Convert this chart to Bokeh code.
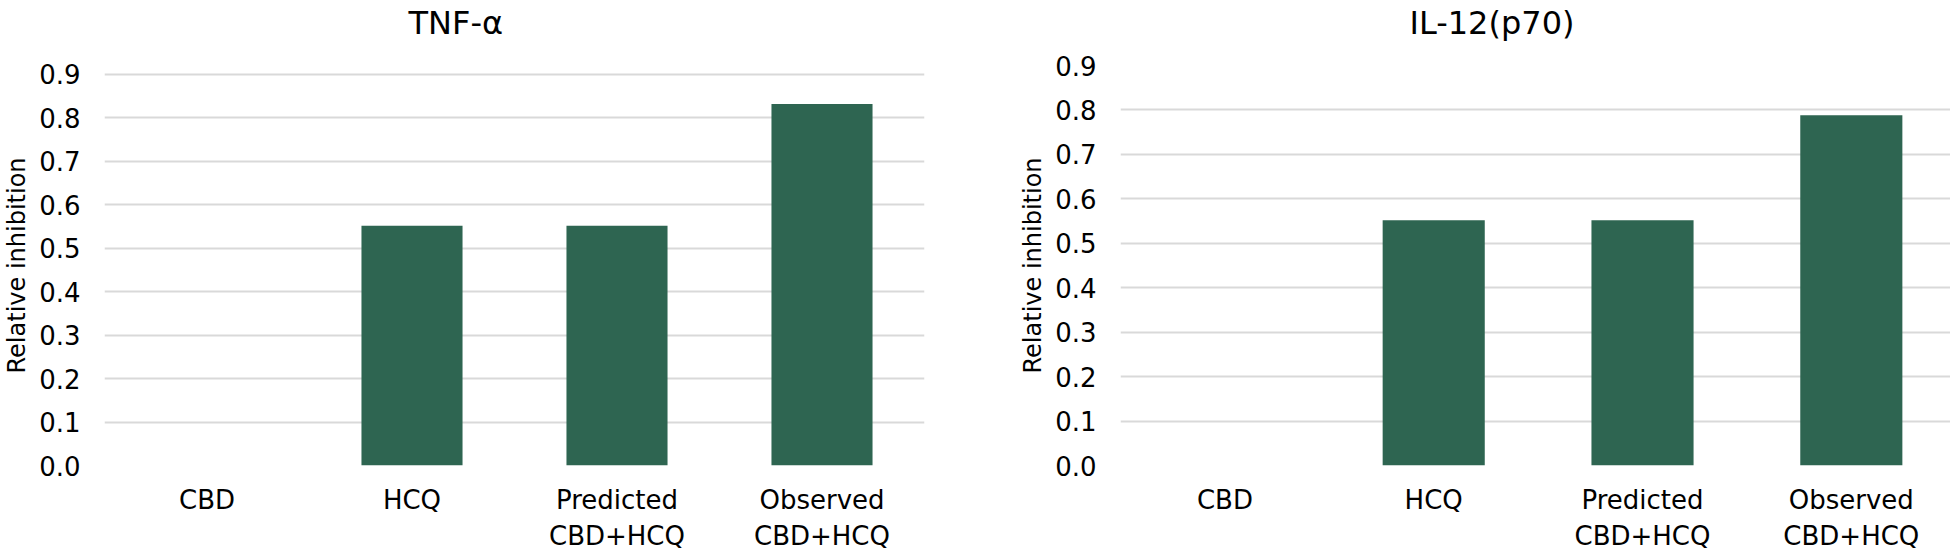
from bokeh.plotting import figure
from bokeh.layouts import row
from bokeh.models import Range1d, FixedTicker, NumeralTickFormatter, ColumnDataSource, Title
from bokeh.embed import file_html
from bokeh.resources import INLINE

categories = ["CBD", "HCQ", "Predicted\nCBD+HCQ", "Observed\nCBD+HCQ"]
tnf_values = [0.0, 0.552, 0.552, 0.832]
il12_values = [0.0, 0.552, 0.552, 0.788]
y_ticks = [0.0, 0.1, 0.2, 0.3, 0.4, 0.5, 0.6, 0.7, 0.8, 0.9]
titles = ["TNF-\u03b1", "IL-12(p70)"]
y_label = "Relative inhibition"

FONT = "DejaVu Sans"
BAR = "#2e6551"
GRID = "#d9d9d9"


def make_chart(title, values, width, x_end, y_end, bar_w, b_left, b_right,
               title_offset):
    xs = list(range(len(categories)))
    src = ColumnDataSource(dict(x=xs, top=values))
    p = figure(width=width, height=557, output_backend="svg", toolbar_location=None,
               x_range=Range1d(-0.5, x_end), y_range=Range1d(0, y_end),
               min_border_left=b_left, min_border_right=b_right,
               min_border_top=64, min_border_bottom=92)
    p.vbar(x="x", top="top", width=bar_w, source=src, fill_color=BAR, line_color=None)
    # spacer panel between the title and the frame
    p.add_layout(Title(text=" ", text_font_size="1px", standoff=20), "above")
    p.title.text = title
    p.title.text_font = FONT
    p.title.text_font_size = "32px"
    p.title.text_font_style = "normal"
    p.title.text_color = "#000000"
    p.title.align = "left"
    p.title.vertical_align = "bottom"
    p.title.offset = title_offset
    p.title.standoff = 2
    p.outline_line_color = None
    p.background_fill_color = "white"
    p.border_fill_color = "white"

    xa = p.xaxis[0]
    xa.ticker = FixedTicker(ticks=xs)
    xa.major_label_overrides = {i: c for i, c in zip(xs, categories)}
    xa.axis_line_color = None
    xa.major_tick_line_color = None
    xa.minor_tick_line_color = None
    xa.major_tick_out = 0
    xa.major_label_text_font = FONT
    xa.major_label_text_font_size = "26px"
    xa.major_label_text_color = "#000000"
    xa.major_label_text_line_height = 1.2
    xa.major_label_standoff = 19
    xa.major_label_orientation = "horizontal"

    ya = p.yaxis[0]
    ya.ticker = FixedTicker(ticks=y_ticks)
    ya.formatter = NumeralTickFormatter(format="0.0")
    ya.axis_line_color = None
    ya.major_tick_line_color = None
    ya.minor_tick_line_color = None
    ya.major_tick_out = 0
    ya.major_label_text_font = FONT
    ya.major_label_text_font_size = "26px"
    ya.major_label_text_color = "#000000"
    ya.major_label_standoff = 24
    ya.axis_label = y_label
    ya.axis_label_text_font = FONT
    ya.axis_label_text_font_size = "24px"
    ya.axis_label_text_font_style = "normal"
    ya.axis_label_text_color = "#000000"
    ya.axis_label_standoff = 5

    p.xgrid.grid_line_color = None
    p.ygrid.grid_line_color = GRID
    p.ygrid.grid_line_width = 2
    p.ygrid.ticker = FixedTicker(ticks=y_ticks)
    return p


left = make_chart(titles[0], tnf_values, 1000, 3.5, 0.9207, 0.493, 100, 76, 304)
right = make_chart(titles[1], il12_values, 950, 3.475, 0.9, 0.489, 120, 0, 289)

layout = row(left, right, spacing=0)
open("out.html", "w").write(file_html(layout, INLINE))
